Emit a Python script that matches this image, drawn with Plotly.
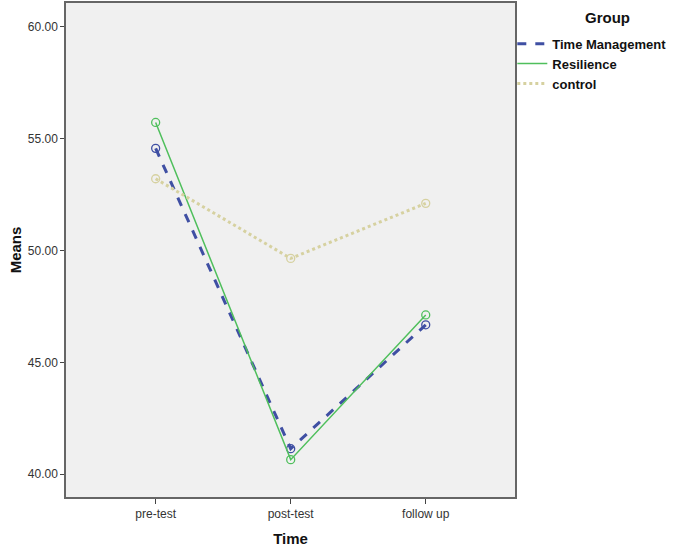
import plotly.graph_objects as go

times = ["pre-test", "post-test", "follow up"]
time_management = [54.57, 41.14, 46.68]
resilience = [55.73, 40.65, 47.12]
control = [53.21, 49.65, 52.11]
y_ticks = [40, 45, 50, 55, 60]
y_tick_labels = ["40.00", "45.00", "50.00", "55.00", "60.00"]

FONT = "Liberation Sans, Arial, sans-serif"

fig = go.Figure()
series = [
    ("Time Management", time_management, "#3f4fa3", "dash", 3),
    ("Resilience", resilience, "#4fbf5c", "solid", 1.5),
    ("control", control, "#d6d1a0", "dot", 3),
]
for name, vals, color, dash, w in series:
    fig.add_trace(go.Scatter(
        x=[0, 1, 2], y=vals, name=name, mode="lines+markers", showlegend=False,
        line=dict(color=color, dash=dash, width=w),
        marker=dict(symbol="circle-open", size=8, color=color, line=dict(width=1.3, color=color)),
    ))
for name, vals, color, dash, w in series:
    fig.add_trace(go.Scatter(
        x=[None], y=[None], name="<b>" + name + "</b>", mode="lines", showlegend=True,
        line=dict(color=color, dash=dash, width=w),
    ))

fig.add_annotation(
    text="<b>Group</b>", xref="paper", yref="paper", x=1.205, y=1.0,
    xanchor="center", yanchor="top", yshift=-4, showarrow=False,
    font=dict(size=15, color="#111111", family=FONT),
)

fig.update_layout(
    width=685, height=547,
    margin=dict(l=66, r=170, t=1, b=50),
    paper_bgcolor="white",
    plot_bgcolor="#f0f0f0",
    font=dict(family=FONT, color="#333333", size=12),
    showlegend=True,
    legend=dict(
        x=0.994, y=0.948, xanchor="left", yanchor="top",
        font=dict(size=13, color="#111111", family=FONT),
        tracegroupgap=0, itemwidth=30, bgcolor="rgba(0,0,0,0)",
    ),
)
fig.update_xaxes(
    range=[-0.664, 2.661], tickmode="array", tickvals=[0, 1, 2], ticktext=times,
    showgrid=False, zeroline=False, ticks="outside", ticklen=5, tickcolor="#444444",
    showline=True, linecolor="#666666", linewidth=1.5, mirror=True,
    title=dict(text="<b>Time</b>", font=dict(size=15, color="#111111"), standoff=13),
    tickfont=dict(size=12, color="#333333"),
)
fig.update_yaxes(
    range=[38.98, 61.07], tickmode="array", tickvals=y_ticks, ticktext=y_tick_labels,
    showgrid=False, zeroline=False, ticks="outside", ticklen=4, tickcolor="#444444",
    showline=True, linecolor="#666666", linewidth=1.5, mirror=True,
    title=dict(text="<b>Means</b>", font=dict(size=15, color="#111111"), standoff=3),
    tickfont=dict(size=12, color="#333333"),
)

fig.write_html("out.html", config={"displayModeBar": False},
               post_script="document.body.style.margin='0';")
